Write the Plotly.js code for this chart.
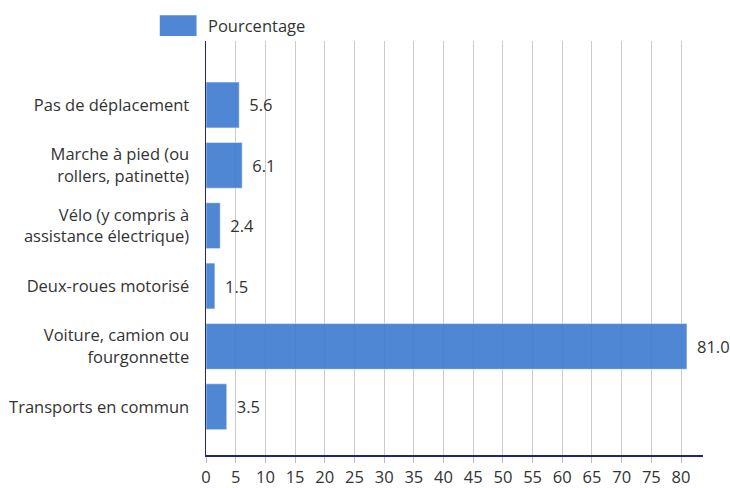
<!DOCTYPE html>
<html><head><meta charset="utf-8">
<script src="https://cdn.plot.ly/plotly-3.0.1.min.js"></script>
<style>html,body{margin:0;padding:0;background:#fff}#chart{width:730px;height:488px}</style>
</head><body><div id="chart"></div>
<script>
const categories = ["Pas de déplacement","Marche à pied (ou<br>rollers, patinette)","Vélo (y compris à<br>assistance électrique)","Deux-roues motorisé","Voiture, camion ou<br>fourgonnette","Transports en commun"];
const values = [5.6, 6.1, 2.4, 1.5, 81.0, 3.5];
const seriesName = "Pourcentage";
const tickVals = [0,5,10,15,20,25,30,35,40,45,50,55,60,65,70,75,80];

const font = {family: "Open Sans, sans-serif", size: 16.5, color: "#333"};
const trace = {
  type: "bar", orientation: "h", name: seriesName,
  x: values, y: categories,
  width: 0.76,
  marker: {color: "rgba(60,122,208,0.9)", line: {color: "rgba(255,255,255,0.5)", width: 1}},
  texttemplate: "\u00a0\u2009%{x:.1f}", textposition: "outside",
  textfont: font, cliponaxis: false, showlegend: false
};
const layout = {
  width: 730, height: 488,
  margin: {l: 206, r: 27, t: 41, b: 33},
  paper_bgcolor: "#fff", plot_bgcolor: "#fff",
  font: font,
  xaxis: {range: [0, 83.7], tickvals: tickVals, showgrid: true, gridcolor: "#cccccc", gridwidth: 1,
    zeroline: false, showline: true, linecolor: "#22228a", linewidth: 1.5,
    ticks: "outside", ticklen: 6, tickcolor: "#bbbbbb", tickfont: font, ticklabelstandoff: 1},
  yaxis: {type: "category", range: [5.8, -1.06], showgrid: false, zeroline: false,
    showline: true, linecolor: "#22228a", linewidth: 1.5, ticks: "", tickfont: font, ticklabelstandoff: 12},
  shapes: [{type: "rect", xref: "paper", yref: "paper", x0: -0.093, x1: -0.019, y0: 1.012, y1: 1.062,
    fillcolor: "rgba(60,122,208,0.9)", line: {width: 0}}],
  annotations: [{xref: "paper", yref: "paper", x: 0.0, y: 1.037, xanchor: "left", yanchor: "middle",
    text: seriesName, showarrow: false, font: font}]
};
Plotly.newPlot("chart", [trace], layout, {displayModeBar: false, staticPlot: true});
</script></body></html>
